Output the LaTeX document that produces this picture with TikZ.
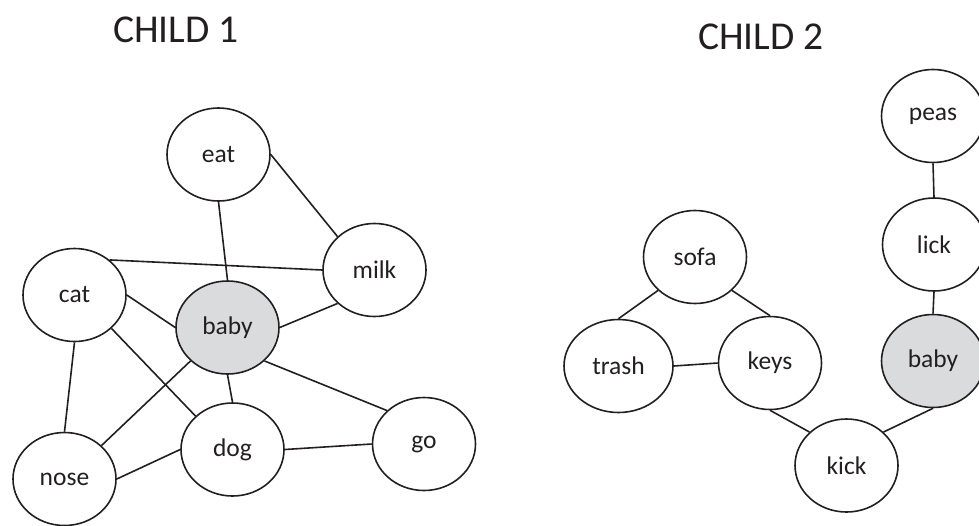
\documentclass[tikz,border=0pt]{standalone}
\usepackage{fontspec}
\setmainfont{Carlito}
\usetikzlibrary{shapes.geometric}
\definecolor{ink}{HTML}{231F20}
\definecolor{babyfill}{HTML}{DADBDC}
\tikzset{
  word/.style={ellipse, draw=ink, line width=1.6pt, fill=white, minimum width=103pt, minimum height=93pt, inner sep=0pt, text=ink, font=\fontsize{25.5}{28}\selectfont},
  hub/.style={word, fill=babyfill},
  title/.style={text=ink, font=\fontsize{39.5}{44}\selectfont, inner sep=0pt},
  link/.style={draw=ink, line width=1.6pt}
}
\begin{document}
\begin{tikzpicture}[x=1pt,y=-1pt]
\useasboundingbox (0,0) rectangle (979,525);
% titles
\node[title] (t1) at (176,30) {CHILD 1};
\node[title] (t2) at (761,37) {CHILD 2};
% child 1 nodes
\node[word] (eat) at (218.5,154.5) {eat};
\node[word] (milk) at (374.5,270) {milk};
\node[word] (cat) at (74.5,295) {cat};
\node[hub] (baby) at (227.5,327.5) {baby};
\node[word] (nose) at (64.5,479) {nose};
\node[word] (dog) at (232.5,449.5) {dog};
\node[word] (go) at (424,444) {go};
% child 2 nodes
\node[word] (sofa) at (695,257) {sofa};
\node[word, minimum width=109pt] (trash) at (618.5,366) {trash};
\node[word] (keys) at (770,363) {keys};
\node[word] (peas) at (933,116) {peas};
\node[word] (lick) at (934,244.5) {lick};
\node[hub] (baby2) at (933,361) {baby};
\node[word] (kick) at (846.5,465.5) {kick};
% child 1 links
\draw[link] (eat.south) -- (baby.north);
\draw[link] (eat.east) -- (milk.north west);
\draw[link] (cat.45) -- (milk.west);
\draw[link] (cat.east) -- (baby.west);
\draw[link] (milk.south west) -- (baby.east);
\draw[link] (cat.south) -- (nose.north);
\draw[link] (cat.south east) -- (dog.north west);
\draw[link] (baby.south west) -- (nose.north east);
\draw[link] (baby.south) -- (dog.north);
\draw[link] (baby.south east) -- (go.north west);
\draw[link] (nose.east) -- (dog.west);
\draw[link] (dog.east) -- (go.west);
% child 2 links
\draw[link] (sofa.south west) -- (trash.north);
\draw[link] (sofa.south east) -- (keys.north);
\draw[link] (trash.east) -- (keys.west);
\draw[link] (keys.south) -- (kick.north west);
\draw[link] (kick.north east) -- (baby2.south);
\draw[link] (baby2.north) -- (lick.south);
\draw[link] (lick.north) -- (peas.south);
\end{tikzpicture}
\end{document}
